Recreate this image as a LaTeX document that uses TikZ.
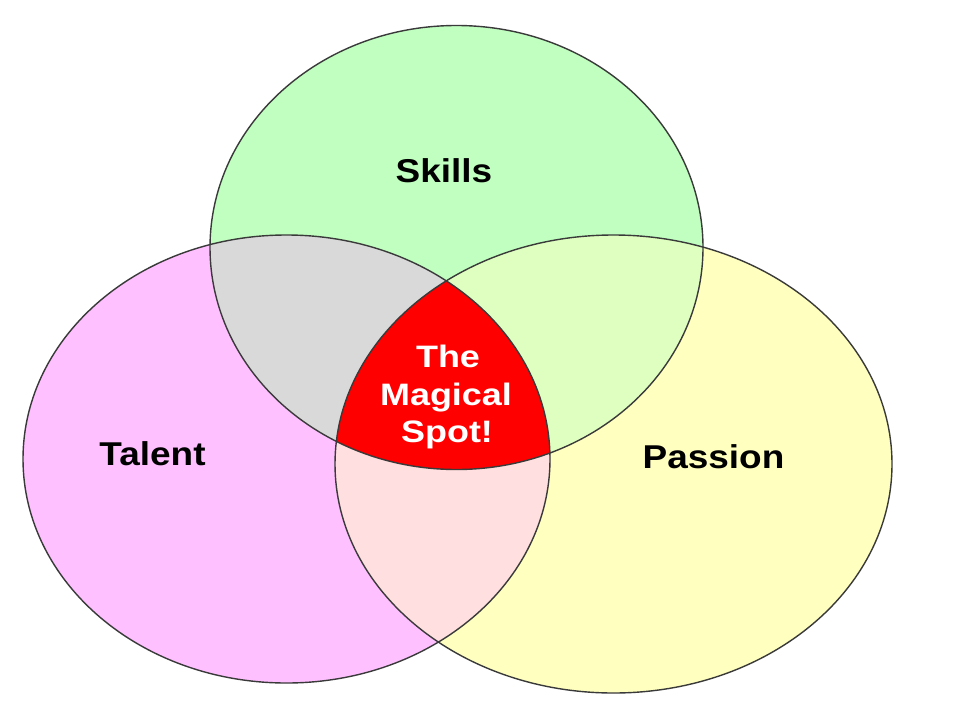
\documentclass[tikz,border=0pt]{standalone}
\usepackage{fontspec}
\newfontfamily\lblfont[FakeStretch=1.12]{Liberation Sans}
\newfontfamily\spotfont[FakeStretch=1.16]{Liberation Sans}
\definecolor{skillc}{HTML}{C0FFC0}
\definecolor{talentc}{HTML}{FFC0FF}
\definecolor{passionc}{HTML}{FFFFC0}
\definecolor{stc}{HTML}{D9D9D9}
\definecolor{spc}{HTML}{DFFFC0}
\definecolor{tpc}{HTML}{FFDFDF}
\definecolor{magicc}{HTML}{FF0000}
\definecolor{edgec}{HTML}{3A3A3A}
\begin{document}
\begin{tikzpicture}[x=1pt,y=-1pt,
  outline/.style={draw=edgec,line width=1.4pt},
  label/.style={font=\lblfont\bfseries\fontsize{33}{40}\selectfont,text=black,anchor=base,inner sep=0pt},
  spotlabel/.style={font=\spotfont\bfseries\fontsize{31}{38}\selectfont,text=white,anchor=base,inner sep=0pt}]
\useasboundingbox (0,0) rectangle (960,720);
\fill[white] (0,0) rectangle (960,720);
\def\skillpath{(456.5,247.5) ellipse [x radius=246.5, y radius=222]}
\def\talentpath{(286.5,459) ellipse [x radius=263.5, y radius=224]}
\def\passionpath{(613.5,464) ellipse [x radius=278.5, y radius=229]}
% single fills
\fill[skillc] \skillpath;
\fill[talentc] \talentpath;
\fill[passionc] \passionpath;
% pairwise
\begin{scope}
  \clip \skillpath;
  \fill[stc] \talentpath;
  \fill[spc] \passionpath;
\end{scope}
\begin{scope}
  \clip \talentpath;
  \fill[tpc] \passionpath;
\end{scope}
% triple
\begin{scope}
  \clip \skillpath;
  \clip \talentpath;
  \fill[magicc] \passionpath;
\end{scope}
% outlines
\draw[outline] \skillpath;
\draw[outline] \talentpath;
\draw[outline] \passionpath;
% labels
\node[label] (skills) at (444,182) {Skills};
\node[label] (talent) at (152.5,465) {Talent};
\node[label] (passion) at (713.5,468) {Passion};
\node[spotlabel] (spot1) at (448,367) {The};
\node[spotlabel] (spot2) at (446,405) {Magical};
\node[spotlabel] (spot3) at (447,442) {Spot!};
\end{tikzpicture}
\end{document}
